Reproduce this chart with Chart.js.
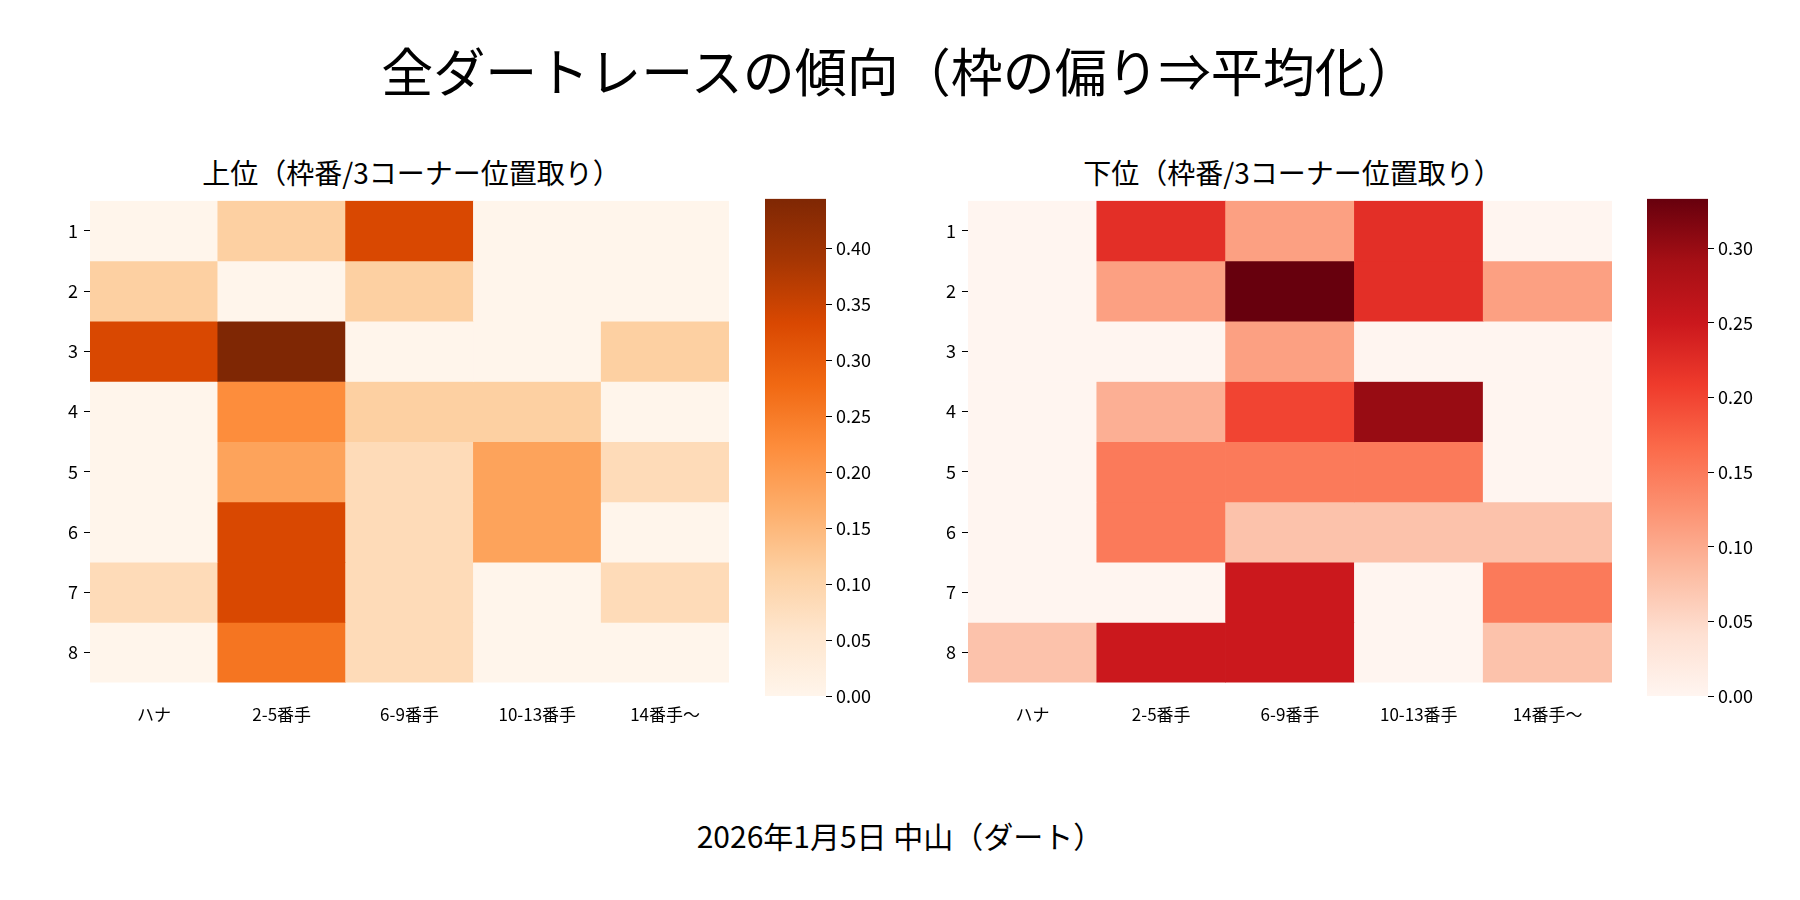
<!DOCTYPE html><html><head><meta charset="utf-8">
<script src="https://cdn.jsdelivr.net/npm/chart.js@4"></script>
<style>body{margin:0;width:1800px;height:900px;background:#fff;font-family:"Noto Sans CJK JP";position:relative;overflow:hidden}
.t{position:absolute;width:100%;text-align:center;color:#000}
.box{position:absolute}</style></head><body>
<div class="t" style="top:32px;font-size:52px">全ダートレースの傾向（枠の偏り⇒平均化）</div>
<div class="t" style="top:813px;font-size:30px">2026年1月5日 中山（ダート）</div>
<div class="t" style="top:152px;left:91px;width:641px;font-size:28px">上位（枠番/3コーナー位置取り）</div>
<div class="t" style="top:152px;left:972px;width:641px;font-size:28px">下位（枠番/3コーナー位置取り）</div>
<div class="box" style="left:62px;top:184px;width:675px;height:555px"><canvas id="h1"></canvas></div>
<div class="box" style="left:765px;top:184px;width:110px;height:527px"><canvas id="c1"></canvas></div>
<div class="box" style="left:940px;top:184px;width:680px;height:555px"><canvas id="h2"></canvas></div>
<div class="box" style="left:1647px;top:184px;width:110px;height:527px"><canvas id="c2"></canvas></div>
<script>
const categories=["ハナ","2-5番手","6-9番手","10-13番手","14番手〜"];
const rowLabels=["1","2","3","4","5","6","7","8"];
const upper=[
[0,0.111,0.333,0,0],
[0.111,0,0.111,0,0],
[0.333,0.444,0,0,0.111],
[0,0.222,0.111,0.111,0],
[0,0.185,0.083,0.185,0.083],
[0,0.333,0.083,0.185,0],
[0.083,0.333,0.083,0,0.083],
[0,0.259,0.083,0,0]];
const lower=[
[0,0.222,0.111,0.222,0],
[0,0.111,0.333,0.222,0.111],
[0,0,0.111,0,0],
[0,0.095,0.2,0.3,0],
[0,0.15,0.15,0.15,0],
[0,0.15,0.075,0.075,0.075],
[0,0,0.25,0,0.15],
[0.075,0.25,0.25,0,0.075]];
const upperMax=0.444, lowerMax=0.333;
const oranges=["#fff5eb","#fee6ce","#fdd0a2","#fdae6b","#fd8d3c","#f16913","#d94801","#a63603","#7f2704"];
const reds=["#fff5f0","#fee0d2","#fcbba1","#fc9272","#fb6a4a","#ef3b2c","#cb181d","#a50f15","#67000d"];
function hex(h){return [1,3,5].map(i=>parseInt(h.substr(i,2),16));}
function cmap(stops,t){t=Math.max(0,Math.min(1,t));const p=t*(stops.length-1);const i=Math.min(Math.floor(p),stops.length-2);const f=p-i;const a=hex(stops[i]),b=hex(stops[i+1]);return `rgb(${a.map((v,k)=>Math.round(v+(b[k]-v)*f)).join(',')})`;}
Chart.defaults.font.family='"Noto Sans CJK JP"';Chart.defaults.color='#000';
const tickGrid={display:true,drawOnChartArea:false,drawTicks:true,tickLength:6,color:'#000',tickColor:'#000'};
function heat(id,data,max,stops){
 new Chart(document.getElementById(id),{type:'bar',
 data:{labels:categories,datasets:rowLabels.map((r,i)=>({data:categories.map(()=>1),
   backgroundColor:categories.map((c,j)=>cmap(stops,data[i][j]/max)),borderWidth:0,barPercentage:1,categoryPercentage:1}))},
 options:{responsive:true,maintainAspectRatio:false,animation:false,plugins:{legend:{display:false},tooltip:{enabled:false}},
  layout:{padding:{top:8,right:8}},
  scales:{x:{stacked:true,grid:{display:false},border:{display:false},ticks:{font:{size:17},padding:14}},
   y:{stacked:true,reverse:true,min:0,max:8,grid:tickGrid,border:{display:false},
    afterBuildTicks:s=>{s.ticks=rowLabels.map((l,i)=>({value:i+0.5}));},
    ticks:{font:{size:18},padding:6,callback:v=>rowLabels[Math.round(v-0.5)]}}}}});
}
function cbar(id,max,stops){
 new Chart(document.getElementById(id),{type:'bar',data:{labels:[''],datasets:[{data:[[0,max]],borderWidth:0,barPercentage:1,categoryPercentage:1,
  backgroundColor:ctx=>{const ca=ctx.chart.chartArea;if(!ca)return stops[0];const g=ctx.chart.ctx.createLinearGradient(0,ca.bottom,0,ca.top);stops.forEach((s,i)=>g.addColorStop(i/(stops.length-1),s));return g;}}]},
 options:{responsive:true,maintainAspectRatio:false,animation:false,plugins:{legend:{display:false},tooltip:{enabled:false}},layout:{padding:{top:8}},
  scales:{x:{display:false},y:{position:'right',min:0,max:max,grid:tickGrid,border:{display:false},
   afterBuildTicks:s=>{const t=[];for(let v=0;v<=max+1e-9;v+=0.05)t.push({value:+v.toFixed(2)});s.ticks=t;},
   ticks:{font:{size:18},padding:4,callback:v=>v.toFixed(2)}}}}});
}
heat('h1',upper,upperMax,oranges);heat('h2',lower,lowerMax,reds);
cbar('c1',upperMax,oranges);cbar('c2',lowerMax,reds);
</script></body></html>
